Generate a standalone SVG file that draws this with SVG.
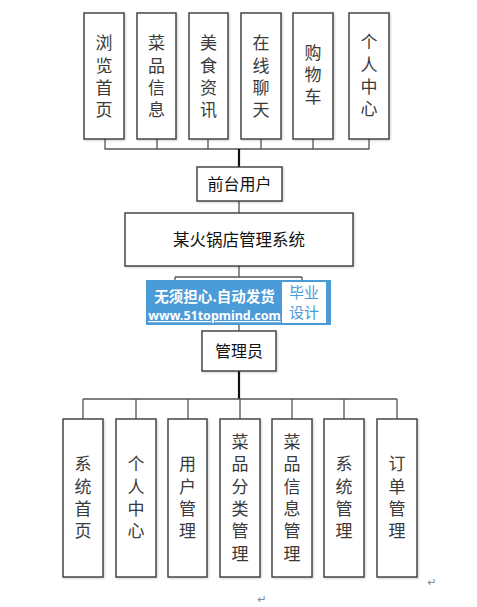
<svg xmlns="http://www.w3.org/2000/svg" width="477" height="607" viewBox="0 0 477 607">
<defs>
<filter id="sh" x="-10%" y="-10%" width="130%" height="130%"><feDropShadow dx="1" dy="1" stdDeviation="0.8" flood-color="#000" flood-opacity="0.18"/></filter>
</defs>
<style>
.box{fill:#fff;stroke:#3a3a3a;stroke-width:1.4;filter:url(#sh)}
.v{font-family:"Noto Sans CJK SC","Noto Sans",sans-serif;font-size:17px;fill:#3a3a3a;text-anchor:middle;writing-mode:vertical-rl;letter-spacing:5.3px}
.m{font-family:"Noto Sans CJK SC","Noto Sans",sans-serif;font-size:16px;fill:#111;text-anchor:middle}
.bus{stroke:#555;stroke-width:1.3;fill:none}
.trunk{stroke:#111;stroke-width:2.2;fill:none}
.ret{font-family:"DejaVu Sans",sans-serif;font-size:11px;fill:#888;text-anchor:middle}
</style>
<rect width="477" height="607" fill="#fff"/>
<g id="connectors">
<path class="bus" d="M105 139V149M157 139V149M208 139V149M261 139V149M313 139V149M369 139V149M104.5 149H369.5"/>
<path class="trunk" d="M239 149V167"/>
<path class="bus" d="M239 201V213M239 266V277M175 277H302M175 277V282M302 277V282M239 322V331"/>
<path class="trunk" d="M239 371V399"/>
<path class="bus" d="M83 399H397M83 399V419M136 399V419M188 399V419M240 399V419M292 399V419M344 399V419M397 399V419"/>
</g>
<g id="top1"><rect class="box" x="84" y="13" width="40" height="126"/><text class="v" x="104" y="79">浏览首页</text></g>
<g id="top2"><rect class="box" x="137" y="13" width="39" height="126"/><text class="v" x="156.5" y="79">菜品信息</text></g>
<g id="top3"><rect class="box" x="189" y="13" width="39" height="126"/><text class="v" x="208.5" y="79">美食资讯</text></g>
<g id="top4"><rect class="box" x="241" y="13" width="40" height="126"/><text class="v" x="261" y="79">在线聊天</text></g>
<g id="top5"><rect class="box" x="293" y="13" width="40" height="126"/><text class="v" x="313" y="77">购物车</text></g>
<g id="top6"><rect class="box" x="349" y="13" width="40" height="126"/><text class="v" x="369" y="78">个人中心</text></g>
<g id="frontUser"><rect class="box" x="197" y="167" width="85" height="34"/><text class="m" x="239.5" y="190">前台用户</text></g>
<g id="system"><rect class="box" x="125" y="213" width="228" height="53"/><text class="m" x="239" y="246" style="font-size:16.5px">某火锅店管理系统</text></g>
<g id="watermark">
<rect x="146" y="280" width="185" height="45" fill="#4b9bd9"/>
<rect x="282" y="282" width="44" height="41" fill="#fff"/>
<text x="214.5" y="302" font-family="'Noto Sans CJK SC',sans-serif" font-size="14.5" font-weight="bold" fill="#fff" text-anchor="middle">无须担心.自动发货</text>
<text x="214.5" y="320" font-family="'Noto Sans','Noto Sans CJK SC',sans-serif" font-size="12.5" font-weight="bold" fill="#fff" text-anchor="middle" text-decoration="underline">www.51topmind.com</text>
<text x="304" y="298" font-family="'Noto Sans CJK SC',sans-serif" font-size="15" fill="#4b9bd9" text-anchor="middle">毕业</text>
<text x="304" y="318" font-family="'Noto Sans CJK SC',sans-serif" font-size="15" fill="#4b9bd9" text-anchor="middle">设计</text>
</g>
<g id="admin"><rect class="box" x="202" y="331" width="74" height="40"/><text class="m" x="239" y="357">管理员</text></g>
<g id="b1"><rect class="box" x="63" y="419" width="40" height="158"/><text class="v" x="83" y="500">系统首页</text></g>
<g id="b2"><rect class="box" x="116" y="419" width="40" height="158"/><text class="v" x="136" y="500">个人中心</text></g>
<g id="b3"><rect class="box" x="168" y="419" width="39" height="158"/><text class="v" x="187.5" y="500">用户管理</text></g>
<g id="b4"><rect class="box" x="220" y="419" width="40" height="158"/><text class="v" x="240" y="500">菜品分类管理</text></g>
<g id="b5"><rect class="box" x="272" y="419" width="40" height="158"/><text class="v" x="292" y="500">菜品信息管理</text></g>
<g id="b6"><rect class="box" x="324" y="419" width="40" height="158"/><text class="v" x="344" y="500">系统管理</text></g>
<g id="b7"><rect class="box" x="377" y="419" width="40" height="158"/><text class="v" x="397" y="500">订单管理</text></g>
<text class="ret" x="432" y="586">↵</text>
<text class="ret" x="262" y="603">↵</text>
</svg>
